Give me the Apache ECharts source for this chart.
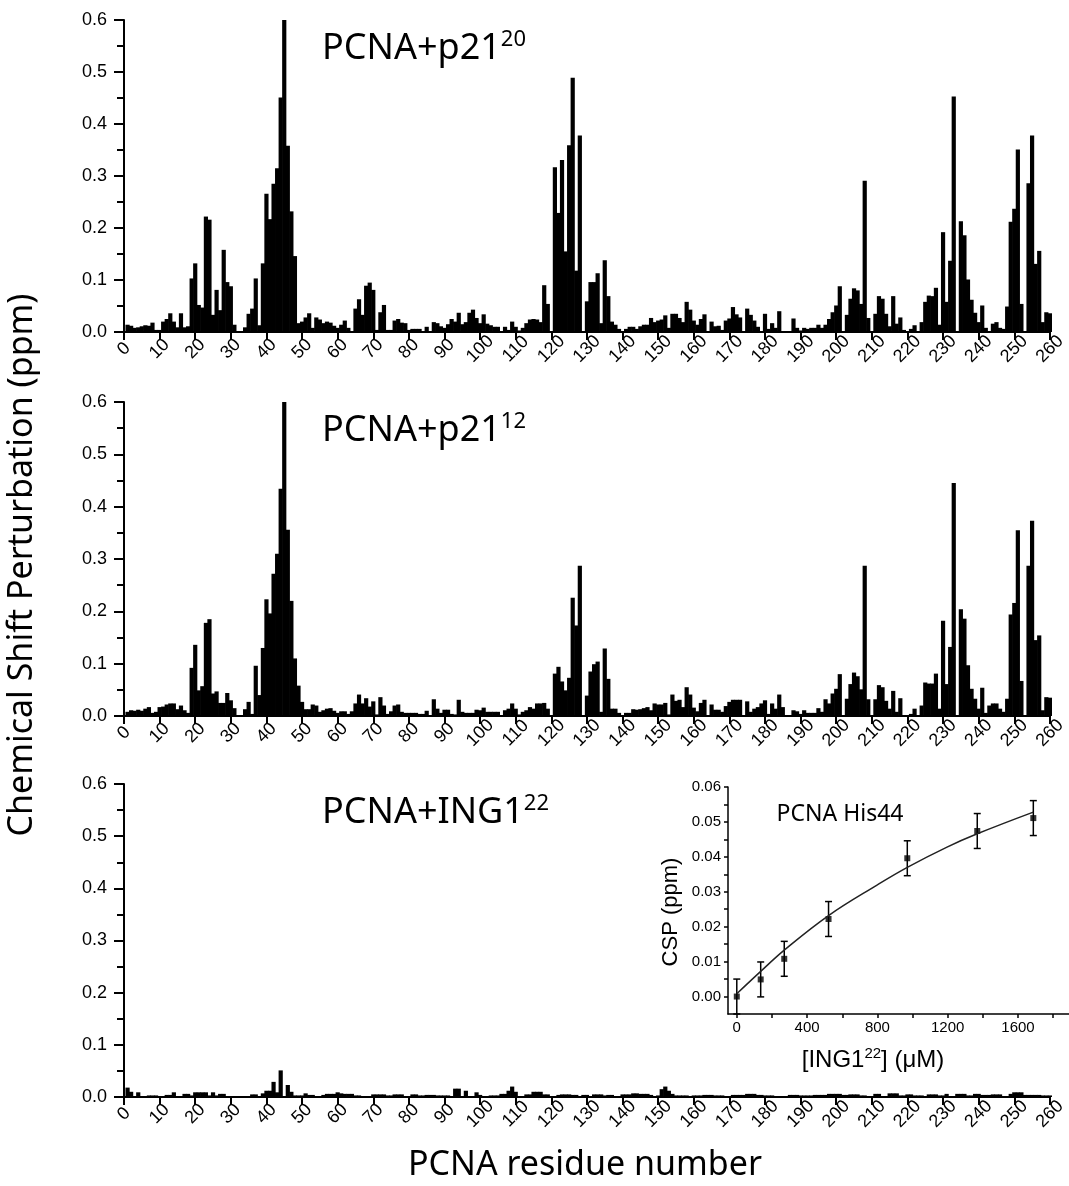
<!DOCTYPE html>
<html><head><meta charset="utf-8">
<script src="https://cdn.jsdelivr.net/npm/echarts@6/dist/echarts.min.js"></script>
<style>html,body{margin:0;padding:0;background:#fff}#c{width:1069px;height:1186px}</style>
</head><body><div id="c"></div>
<script>
// Chemical shift perturbation per PCNA residue (index 0 -> residue 1)
const p21_20 = [
0.014,0.012,0.008,0.009,0.011,0.013,0.012,0.018,0.004,0.004,
0.020,0.025,0.036,0.020,0.009,0.036,0.009,0.011,0.103,0.132,
0.052,0.047,0.222,0.216,0.033,0.081,0.042,0.158,0.096,0.088,
0.014,0,0,0.009,0.035,0.045,0.103,0.013,0.132,0.266,
0.217,0.285,0.315,0.451,0.606,0.358,0.232,0.146,0.017,0.020,
0.028,0.036,0.008,0.028,0.024,0.017,0.020,0.018,0.012,0.008,
0.014,0.022,0.008,0.001,0.045,0.063,0.033,0.089,0.095,0.081,
0.004,0.038,0.052,0.004,0.004,0.022,0.025,0.018,0.017,0.004,
0.006,0.006,0.006,0.001,0.010,0.001,0.019,0.017,0.011,0.008,
0.015,0.025,0.020,0.037,0.015,0.019,0.037,0.043,0.027,0.017,
0.034,0.016,0.013,0.010,0.010,0,0.010,0.004,0.020,0.010,
0.003,0.008,0.017,0.024,0.025,0.024,0.019,0.090,0.054,0,
0.317,0.229,0.331,0.155,0.359,0.489,0.118,0.378,0,0.059,
0.096,0.096,0.113,0.017,0.138,0.069,0.020,0.014,0.006,0,
0.006,0.010,0.010,0.006,0.011,0.014,0.014,0.027,0.019,0.022,
0.024,0.032,0.008,0.035,0.035,0.027,0.019,0.058,0.043,0.022,
0.014,0.025,0.034,0,0.020,0.011,0.012,0.004,0.022,0.026,
0.048,0.034,0.028,0,0.045,0.033,0.022,0.010,0,0.035,
0.006,0.017,0.008,0.040,0,0,0,0.026,0.008,0.003,
0.008,0.006,0.008,0.008,0.014,0.008,0.014,0.025,0.038,0.051,
0.088,0,0.033,0.064,0.084,0.080,0.054,0.291,0.027,0,
0.035,0.069,0.064,0.035,0.011,0.069,0.016,0.028,0.004,0,
0.006,0.013,0,0.019,0.058,0.070,0.069,0.085,0.014,0.192,
0.058,0.137,0.453,0,0.213,0.186,0.101,0.062,0.037,0.019,
0.051,0.008,0,0.016,0.019,0.008,0.006,0.049,0.212,0.237,
0.351,0.054,0,0.286,0.378,0.131,0.156,0.019,0.038,0.036
];
const p21_12 = [
0.008,0.011,0.010,0.012,0.010,0.014,0.017,0.006,0.008,0.017,
0.018,0.022,0.024,0.024,0.013,0.020,0.011,0.006,0.092,0.136,
0.049,0.057,0.178,0.185,0.043,0.047,0.025,0.025,0.044,0.030,
0.015,0,0,0.013,0.027,0.004,0.096,0.040,0.130,0.223,
0.196,0.272,0.310,0.434,0.600,0.356,0.220,0.110,0.058,0.027,
0.013,0.013,0.022,0.020,0.008,0.011,0.014,0.015,0.010,0.006,
0.009,0.009,0.004,0.009,0.024,0.041,0.024,0.034,0.018,0.028,
0.003,0.036,0.020,0.004,0.009,0.020,0.022,0.008,0.006,0.006,
0.006,0.006,0.004,0.004,0.010,0,0.032,0.014,0.006,0.012,
0.012,0.004,0.003,0.031,0.008,0.006,0.006,0.006,0.012,0.011,
0.016,0.008,0.008,0.008,0.008,0,0.011,0.014,0.024,0.014,
0.003,0.008,0.011,0.017,0.014,0.024,0.024,0.025,0.014,0,
0.081,0.094,0.066,0.049,0.073,0.226,0.173,0.287,0,0.039,
0.085,0.099,0.104,0.008,0.129,0.071,0.014,0.014,0.006,0.001,
0.006,0.006,0.013,0.012,0.013,0.015,0.017,0.011,0.024,0.022,
0.022,0.025,0.003,0.041,0.029,0.031,0.017,0.055,0.041,0.016,
0.009,0.025,0.031,0,0.022,0.012,0.012,0.008,0.019,0.027,
0.031,0.031,0.031,0,0.028,0.008,0.014,0.017,0.024,0.030,
0.004,0.024,0.014,0.041,0.017,0,0,0.011,0.009,0.004,
0.011,0.006,0.006,0.006,0.015,0.008,0.032,0.024,0.043,0.052,
0.080,0,0.033,0.061,0.083,0.076,0.051,0.287,0.032,0,
0.032,0.059,0.055,0.029,0.014,0.048,0.008,0.034,0,0,
0.004,0.014,0,0.020,0.064,0.062,0.062,0.081,0.014,0.182,
0.061,0.132,0.445,0,0.204,0.186,0.097,0.052,0.033,0.014,
0.054,0.006,0.020,0.024,0.024,0.014,0.008,0.033,0.194,0.216,
0.355,0.067,0,0.287,0.373,0.145,0.154,0.011,0.036,0.035
];
const ing1_22 = [
0.018,0.010,0.001,0.009,0,0,0.003,0.003,0.003,0.001,
0.001,0.004,0.004,0.009,0.001,0.001,0.006,0.006,0.003,0.009,
0.009,0.009,0.009,0.003,0.009,0.003,0.006,0.006,0.001,0.001,
0,0,0,0,0,0.005,0.005,0,0.007,0.012,
0.012,0.029,0.009,0.051,0,0.023,0.010,0.003,0.003,0.003,
0.007,0.004,0.004,0.001,0.001,0.004,0.006,0.006,0.006,0.009,
0.007,0.006,0.006,0.006,0.003,0.003,0.001,0.001,0.001,0.005,
0.005,0.005,0.005,0.003,0.003,0.005,0.005,0.005,0.001,0.001,
0.005,0.005,0.003,0.003,0.004,0.004,0.004,0.003,0.003,0.003,
0.003,0,0.016,0.016,0.001,0.012,0,0,0.009,0.004,
0.001,0.001,0.003,0.003,0.003,0.006,0.006,0.012,0.020,0.010,
0.001,0.001,0.005,0.005,0.010,0.010,0.010,0.005,0.005,0.001,
0.001,0.004,0.005,0.005,0.005,0.004,0.004,0.001,0.004,0.004,
0.001,0.005,0.005,0.005,0.003,0.004,0.004,0.001,0.001,0.005,
0.005,0.005,0.007,0.007,0.006,0.006,0.006,0.004,0.001,0.003,
0.015,0.020,0.012,0.006,0.003,0.003,0.003,0.003,0.001,0.003,
0.003,0.003,0.004,0.004,0.004,0.003,0.003,0.003,0.001,0.001,
0.004,0.004,0.004,0.004,0.006,0.006,0.006,0.004,0.004,0.003,
0.003,0.003,0.001,0.001,0.001,0.001,0.004,0.004,0.004,0.003,
0.003,0.003,0.003,0.004,0.004,0.004,0.004,0.006,0.006,0.006,
0.006,0.004,0.004,0.005,0.005,0.005,0.003,0.003,0.001,0.001,
0.006,0.006,0.001,0.001,0.007,0.007,0.007,0.003,0.003,0.005,
0.005,0.003,0.003,0.003,0.001,0.005,0.005,0.005,0.003,0.003,
0.006,0.001,0.001,0.006,0.006,0.006,0.003,0.003,0.006,0.006,
0.004,0.004,0.004,0.005,0.005,0.005,0.001,0.001,0.006,0.009,
0.009,0.009,0.004,0.004,0.004,0.004,0.004,0.003,0.003,0.003
];
const panelTitles = [['PCNA+p21', '20'], ['PCNA+p21', '12'], ['PCNA+ING1', '22']];

// Inset: titration of His44
const ing1Conc = [0, 136, 270, 522, 970, 1368, 1687];
const his44CSP = [0.000, 0.0049, 0.0108, 0.0222, 0.0396, 0.0474, 0.0511];
const his44Err = [0.005, 0.005, 0.005, 0.005, 0.005, 0.005, 0.005];
const fitConc = [0, 136, 270, 522, 800, 970, 1196, 1368, 1687];
const fitCSP = [0.0008, 0.0072, 0.0133, 0.0232, 0.0320, 0.0370, 0.0428, 0.0466, 0.0528];
const insetXLabels = [0, 400, 800, 1200, 1600];
const insetXTicks = [0, 200, 400, 600, 800, 1000, 1200, 1400, 1600, 1800];
const insetYLabels = [0, 0.01, 0.02, 0.03, 0.04, 0.05, 0.06];
const insetYTicks = [0, 0.005, 0.01, 0.015, 0.02, 0.025, 0.03, 0.035, 0.04, 0.045, 0.05, 0.055, 0.06];

const TICKF = "'Liberation Sans', Arial, sans-serif";
const TITLEF = "'Noto Sans', sans-serif";

const chart = echarts.init(document.getElementById('c'), null, {renderer: 'canvas'});

const grids = [
  {left: 124, top: 20, width: 945, height: 312},
  {left: 124, top: 402, width: 945, height: 314},
  {left: 124, top: 784, width: 945, height: 313},
  {left: 728, top: 787, width: 341, height: 227}
];
const panels = [p21_20, p21_12, ing1_22];

const xAxes = [0, 1, 2].map(i => ({
  gridIndex: i, type: 'value', min: 0, max: 260, interval: 10,
  axisLine: {show: true, onZero: false, lineStyle: {color: '#000', width: 2}},
  axisTick: {show: true, length: 8, lineStyle: {color: '#000', width: 2}},
  axisLabel: {rotate: 45, align: 'center', verticalAlign: 'middle', margin: 17,
    fontSize: 18, fontFamily: TICKF, color: '#000', hideOverlap: false},
  splitLine: {show: false}
}));
const yAxes = [0, 1, 2].map(i => ({
  gridIndex: i, type: 'value', min: 0, max: 0.6, interval: 0.1,
  axisLine: {show: true, lineStyle: {color: '#000', width: 2}},
  axisTick: {show: true, length: 10, lineStyle: {color: '#000', width: 2}},
  minorTick: {show: true, splitNumber: 2, length: 7, lineStyle: {color: '#000', width: 2}},
  axisLabel: {formatter: v => v.toFixed(1), fontSize: 18, fontFamily: TICKF, color: '#000', margin: 17},
  splitLine: {show: false}, minorSplitLine: {show: false}
}));
xAxes.push({
  gridIndex: 3, type: 'value', min: -50, max: 1890,
  axisLine: {show: true, onZero: false, lineStyle: {color: '#000', width: 1.5}},
  axisTick: {show: true, customValues: insetXTicks, length: 4, lineStyle: {color: '#000', width: 1.5}},
  axisLabel: {customValues: insetXLabels, formatter: v => String(v), fontSize: 15, fontFamily: TICKF, color: '#000', margin: 6},
  splitLine: {show: false}
});
yAxes.push({
  gridIndex: 3, type: 'value', min: -0.005, max: 0.06,
  axisLine: {show: true, onZero: false, lineStyle: {color: '#000', width: 1.5}},
  axisTick: {show: true, customValues: insetYTicks, length: 4, lineStyle: {color: '#000', width: 1.5}},
  axisLabel: {customValues: insetYLabels, formatter: v => v.toFixed(2), fontSize: 15, fontFamily: TICKF, color: '#000', margin: 7},
  splitLine: {show: false}
});

const series = panels.map((vals, i) => ({
  type: 'bar', xAxisIndex: i, yAxisIndex: i, barWidth: 4.2, silent: true,
  itemStyle: {color: '#000'},
  data: vals.map((v, k) => [k + 1, v])
}));
series.push({
  type: 'line', xAxisIndex: 3, yAxisIndex: 3, smooth: 0.4, showSymbol: false, silent: true,
  lineStyle: {color: '#222', width: 1.5},
  data: fitConc.map((c, k) => [c, fitCSP[k]])
});
series.push({
  type: 'custom', xAxisIndex: 3, yAxisIndex: 3, silent: true,
  data: ing1Conc.map((c, k) => [c, his44CSP[k], his44Err[k]]),
  renderItem: function (params, api) {
    const x = api.value(0), y = api.value(1), e = api.value(2);
    const t = api.coord([x, y + e]), b = api.coord([x, y - e]);
    const hw = 3.5, st = {stroke: '#000', lineWidth: 1.5};
    return {type: 'group', children: [
      {type: 'line', shape: {x1: t[0], y1: t[1], x2: b[0], y2: b[1]}, style: st},
      {type: 'line', shape: {x1: t[0] - hw, y1: t[1], x2: t[0] + hw, y2: t[1]}, style: st},
      {type: 'line', shape: {x1: b[0] - hw, y1: b[1], x2: b[0] + hw, y2: b[1]}, style: st}
    ]};
  }
});
series.push({
  type: 'scatter', xAxisIndex: 3, yAxisIndex: 3, symbol: 'rect', symbolSize: 6, silent: true,
  itemStyle: {color: '#000'},
  data: ing1Conc.map((c, k) => [c, his44CSP[k]])
});

const titleY = [49, 431, 813];
const graphic = panelTitles.map((t, i) => ({
  type: 'text', x: 322, y: titleY[i], silent: true,
  style: {
    text: '{m|' + t[0] + '}{s|' + t[1] + '}', align: 'left', verticalAlign: 'middle',
    rich: {
      m: {fontSize: 36, fontFamily: TITLEF, fill: '#000', lineHeight: 40},
      s: {fontSize: 22, fontFamily: TITLEF, fill: '#000', lineHeight: 22, verticalAlign: 'top'}
    }
  }
}));
graphic.push(
  {type: 'text', x: 22, y: 565, rotation: Math.PI / 2, silent: true,
   style: {text: 'Chemical Shift Perturbation (ppm)', fontSize: 34, fontFamily: TITLEF, fill: '#000', align: 'center', verticalAlign: 'middle'}},
  {type: 'text', x: 585, y: 1165, silent: true,
   style: {text: 'PCNA residue number', fontSize: 34, fontFamily: TITLEF, fill: '#000', align: 'center', verticalAlign: 'middle'}},
  {type: 'text', x: 840, y: 814, silent: true,
   style: {text: 'PCNA His44', fontSize: 23, fontFamily: TITLEF, fill: '#000', align: 'center', verticalAlign: 'middle'}},
  {type: 'text', x: 671, y: 912, rotation: Math.PI / 2, silent: true,
   style: {text: 'CSP (ppm)', fontSize: 22, fontFamily: TICKF, fill: '#000', align: 'center', verticalAlign: 'middle'}},
  {type: 'text', x: 873, y: 1060, silent: true,
   style: {text: '{m|[ING1}{s|22}{m|] (μM)}', align: 'center', verticalAlign: 'middle',
     rich: {
       m: {fontSize: 24, fontFamily: TICKF, fill: '#000', lineHeight: 28},
       s: {fontSize: 15, fontFamily: TICKF, fill: '#000', lineHeight: 15, verticalAlign: 'top'}
     }}}
);

chart.setOption({
  animation: false,
  backgroundColor: '#fff',
  grid: grids,
  xAxis: xAxes,
  yAxis: yAxes,
  series: series,
  graphic: graphic
});
</script></body></html>
